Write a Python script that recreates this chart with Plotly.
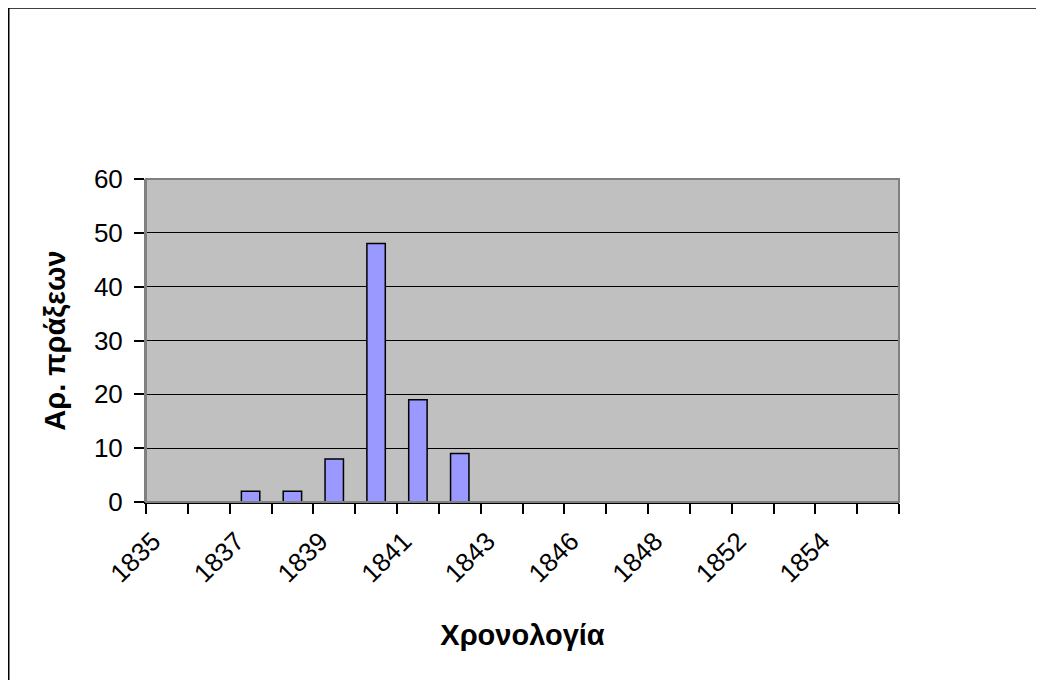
import plotly.graph_objects as go

years = ["1835", "1836", "1837", "1838", "1839", "1840", "1841", "1842", "1843",
         "1844", "1846", "1847", "1848", "1850", "1852", "1853", "1854", "1855"]
counts = [0, 0, 2, 2, 8, 48, 19, 9, 0, 0, 0, 0, 0, 0, 0, 0, 0, 0]
label_years = ["1835", "1837", "1839", "1841", "1843", "1846", "1848", "1852", "1854"]

idx = list(range(len(years)))
label_pos = [years.index(y) for y in label_years]

# figure is placed at (8, 8) in the page by the body margin
W, H = 1036, 672
L, R, T, B = 138, 891, 171, 494

fig = go.Figure()
fig.add_trace(go.Bar(
    x=idx, y=counts, width=0.44,
    marker=dict(color="#9999FF", line=dict(color="#000000", width=1.5)),
    hovertext=years,
))

font = "Liberation Sans, Arial, sans-serif"
px_x = lambda p: (p - L) / (R - L)
px_y = lambda p: (B - p) / (B - T)

fig.update_layout(
    width=W, height=H,
    margin=dict(l=L, r=W - R, t=T, b=H - B, autoexpand=False),
    paper_bgcolor="white", plot_bgcolor="#C0C0C0",
    showlegend=False,
    font=dict(family=font, color="black", size=26),
    xaxis=dict(
        range=[-0.5, len(years) - 0.5], tickmode="array",
        tickvals=label_pos, ticktext=label_years, tickangle=-45,
        ticks="", showgrid=False, zeroline=False,
        showline=True, linecolor="black", linewidth=1.5,
        tickfont=dict(size=26, family=font),
        ticklabelstandoff=12, ticklabelshift=-14,
        minor=dict(ticks="outside", tick0=-0.5, dtick=1, ticklen=10,
                   tickcolor="black", tickwidth=1.5, showgrid=False),
        title=dict(text="<b>Χρονολογία</b>", font=dict(size=29, family=font), standoff=37),
    ),
    yaxis=dict(
        range=[0, 60], dtick=10, ticks="outside", ticklen=10, tickcolor="black",
        tickwidth=1.5, showgrid=True, gridcolor="#000000", gridwidth=1,
        zeroline=False, showline=True, linecolor="#808080", linewidth=2,
        ticklabelstandoff=6,
        tickfont=dict(size=26, family=font),
        title=dict(text="<b>Αρ. πράξεων</b>", font=dict(size=29, family=font), standoff=20),
    ),
    shapes=[
        dict(type="rect", xref="paper", yref="paper", x0=0, x1=1, y0=0, y1=1,
             line=dict(color="#808080", width=2), fillcolor="rgba(0,0,0,0)", layer="above"),
        dict(type="line", xref="paper", yref="paper",
             x0=px_x(0.75), x1=px_x(0.75), y0=px_y(0), y1=px_y(H + 20),
             line=dict(color="black", width=1.5)),
        dict(type="line", xref="paper", yref="paper",
             x0=px_x(0), x1=px_x(W + 20), y0=px_y(0), y1=px_y(0),
             line=dict(color="black", width=1.5)),
    ],
)

fig.write_html("out.html")
